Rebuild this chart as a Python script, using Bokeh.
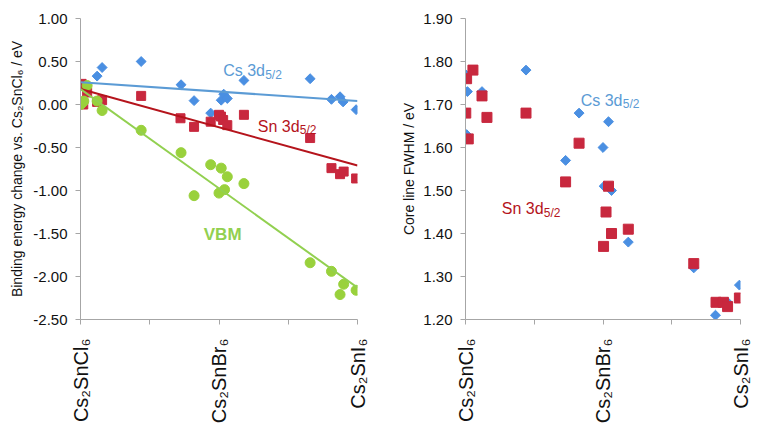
import math
from bokeh.plotting import figure
from bokeh.layouts import row
from bokeh.models import Range1d, FixedTicker, NumeralTickFormatter, CustomJSTickFormatter
from bokeh.core.properties import value
from bokeh.embed import file_html
from bokeh.resources import INLINE

# ---------------- data ----------------
x_tick_vals = [0, 0.25, 0.5, 0.75, 1]
x_tick_labels = ["Cs₂SnCl₆", "", "Cs₂SnBr₆", "", "Cs₂SnI₆"]

# left panel: binding energy change vs Cs2SnCl6 (eV)
cs_be_x = [0.004, 0.008, 0.06, 0.078, 0.219, 0.363, 0.41, 0.47, 0.508, 0.517, 0.53, 0.59, 0.829, 0.906, 0.937, 0.948, 0.995]
cs_be_y = [0.23, 0.02, 0.33, 0.43, 0.50, 0.23, 0.045, -0.10, 0.05, 0.12, 0.07, 0.28, 0.30, 0.06, 0.09, 0.03, -0.06]

sn_be_x = [0.004, 0.024, 0.004, 0.01, 0.06, 0.078, 0.219, 0.361, 0.41, 0.47, 0.50, 0.507, 0.515, 0.53, 0.59, 0.829, 0.906, 0.937, 0.95, 0.995]
sn_be_y = [0.24, 0.14, 0.02, 0.0, 0.03, 0.05, 0.10, -0.16, -0.26, -0.20, -0.12, -0.14, -0.18, -0.24, -0.12, -0.39, -0.74, -0.81, -0.78, -0.86]

vbm_x = [0.0, 0.006, 0.012, 0.024, 0.06, 0.078, 0.219, 0.363, 0.41, 0.47, 0.508, 0.5, 0.52, 0.53, 0.59, 0.829, 0.906, 0.937, 0.95, 0.995]
vbm_y = [0.0, 0.02, 0.04, 0.22, 0.04, -0.07, -0.30, -0.56, -1.06, -0.70, -0.74, -1.03, -0.99, -0.84, -0.92, -1.84, -1.94, -2.21, -2.09, -2.16]

# linear trend lines (end points)
fit_x = [0, 1]
cs_fit = [0.26, 0.04]
sn_fit = [0.18, -0.71]
vbm_fit = [0.18, -2.13]

# right panel: core line FWHM (eV)
cs_fw_x = [0.0, 0.007, 0.004, 0.06, 0.22, 0.364, 0.413, 0.50, 0.504, 0.52, 0.531, 0.592, 0.83, 0.909, 0.953, 0.996]
cs_fw_y = [1.77, 1.73, 1.63, 1.73, 1.78, 1.57, 1.68, 1.60, 1.51, 1.66, 1.50, 1.38, 1.32, 1.21, 1.24, 1.28]

sn_fw_x = [0.004, 0.027, 0.001, 0.01, 0.06, 0.078, 0.22, 0.364, 0.413, 0.502, 0.511, 0.52, 0.531, 0.592, 0.83, 0.911, 0.938, 0.953, 0.996]
sn_fw_y = [1.76, 1.78, 1.68, 1.62, 1.72, 1.67, 1.68, 1.52, 1.61, 1.37, 1.45, 1.51, 1.40, 1.41, 1.33, 1.24, 1.24, 1.23, 1.25]

be_ticks = [1.0, 0.5, 0.0, -0.5, -1.0, -1.5, -2.0, -2.5]
fw_ticks = [1.9, 1.8, 1.7, 1.6, 1.5, 1.4, 1.3, 1.2]

# ---------------- style ----------------
FONT = "Liberation Sans"
BLUE = "#4a8fe2"
BLUE_LINE = "#5b9bd5"
RED = "#c8283e"
RED_LINE = "#b5141c"
GREEN = "#99d13c"
GREEN_LINE = "#92d050"
AXIS = "#a6a6a6"

xfmt = CustomJSTickFormatter(args=dict(vals=x_tick_vals, labs=x_tick_labels), code="""
for (let i = 0; i < vals.length; i++) { if (Math.abs(tick - vals[i]) < 1e-6) return labs[i]; }
return "";
""")


def style(p, yticks, ylabel, label_standoff):
    p.xaxis.ticker = FixedTicker(ticks=x_tick_vals, minor_ticks=[])
    p.xaxis.formatter = xfmt
    p.xaxis.major_label_orientation = math.pi / 2
    p.xaxis.major_label_text_font_size = "20px"
    p.xaxis.major_label_standoff = 14
    p.yaxis.ticker = FixedTicker(ticks=yticks, minor_ticks=[])
    p.yaxis.formatter = NumeralTickFormatter(format="0.00")
    p.yaxis.major_label_text_font_size = "15px"
    p.yaxis.major_label_standoff = 8
    p.yaxis.axis_label = ylabel
    p.yaxis.axis_label_text_font_size = "14px"
    p.yaxis.axis_label_text_font_style = "normal"
    p.yaxis.axis_label_standoff = label_standoff
    for ax in (p.xaxis, p.yaxis):
        ax.axis_line_color = AXIS
        ax.major_tick_line_color = AXIS
        ax.minor_tick_line_color = None
        ax.major_tick_out = 5
        ax.major_tick_in = 0
        ax.major_label_text_font = FONT
        ax.axis_label_text_font = FONT
        ax.major_label_text_color = "#111111"
        ax.axis_label_text_color = "#111111"
    p.xgrid.visible = False
    p.ygrid.visible = False
    p.outline_line_color = None
    p.background_fill_color = "white"
    p.border_fill_color = "white"


def sub_label(p, x, y, main, sub, color, size=16, sub_dx=42):
    p.text(x=[x], y=[y], text=[main], text_font=value(FONT), text_font_size=f"{size}px",
           text_color=color, text_align="left", text_baseline="alphabetic")
    p.text(x=[x], y=[y], text=[sub], text_font=value(FONT), text_font_size="12px",
           text_color=color, text_align="left", text_baseline="alphabetic",
           x_offset=sub_dx, y_offset=4)


# ---------------- left panel ----------------
p1 = figure(width=398, height=441, output_backend="svg", toolbar_location=None,
            x_range=Range1d(0, 1), y_range=Range1d(-2.5, 1.0),
            min_border_left=80, min_border_right=41, min_border_top=18, min_border_bottom=122)
style(p1, be_ticks, "Binding energy change vs. Cs₂SnCl₆ / eV", 5)

p1.scatter(cs_be_x, cs_be_y, marker="square", angle=math.pi / 4, size=7, color=BLUE)
p1.scatter(sn_be_x, sn_be_y, marker="square", size=9, color=RED)
p1.scatter(vbm_x, vbm_y, marker="circle", size=10, color=GREEN)
p1.line(fit_x, cs_fit, line_color=BLUE_LINE, line_width=2)
p1.line(fit_x, sn_fit, line_color=RED_LINE, line_width=2)
p1.line(fit_x, vbm_fit, line_color=GREEN_LINE, line_width=2)

sub_label(p1, 0.515, 0.39, "Cs 3d", "5/2", BLUE_LINE)
sub_label(p1, 0.64, -0.25, "Sn 3d", "5/2", RED_LINE)
p1.text(x=[0.445], y=[-1.506], text=["VBM"], text_font=value(FONT), text_font_size="17px",
        text_font_style="bold", text_color=GREEN_LINE, text_align="left", text_baseline="alphabetic")

# ---------------- right panel ----------------
p2 = figure(width=378, height=441, output_backend="svg", toolbar_location=None,
            x_range=Range1d(0, 1), y_range=Range1d(1.2, 1.9),
            min_border_left=61, min_border_right=36, min_border_top=18, min_border_bottom=122)
style(p2, fw_ticks, "Core line FWHM / eV", 3)

p2.scatter(cs_fw_x, cs_fw_y, marker="square", angle=math.pi / 4, size=7, color=BLUE)
p2.scatter(sn_fw_x, sn_fw_y, marker="square", size=10, color=RED)

sub_label(p2, 0.419, 1.71, "Cs 3d", "5/2", BLUE_LINE)
sub_label(p2, 0.132, 1.457, "Sn 3d", "5/2", RED_LINE)

layout = row(p1, p2)
open("out.html", "w").write(file_html(layout, INLINE))
